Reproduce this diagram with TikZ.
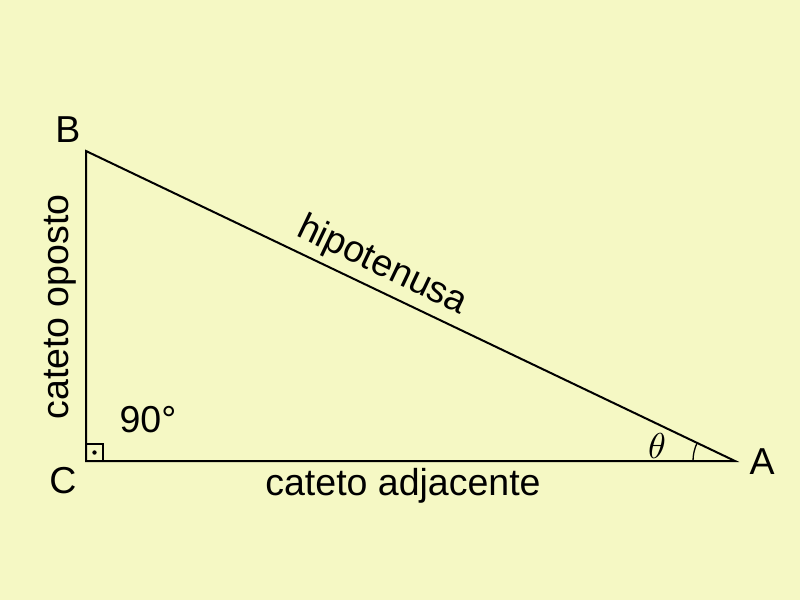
\documentclass[tikz,border=0pt]{standalone}
\usepackage{fontspec}
\setmainfont{Liberation Sans}
\usetikzlibrary{calc}
\definecolor{bg}{RGB}{245,248,196}
\begin{document}
\begin{tikzpicture}[x=1pt,y=-1pt,
  edge/.style={line width=2pt,black},
  lbl/.style={font=\fontsize{37.5}{40}\selectfont,inner sep=0pt}]
\fill[bg] (0,0) rectangle (800,600);
\useasboundingbox (0,0) rectangle (800,600);
\coordinate (C) at (86,461);
\coordinate (B) at (86,151);
\coordinate (A) at (735,461);
\draw[edge,line join=miter] (C) -- (B) -- (A) -- cycle;
\draw[line width=1.6pt] ($(C)+(0,-17)$) -- ($(C)+(17,-17)$) -- ($(C)+(17,0)$);
\fill ($(C)+(8.5,-8.5)$) circle (2.2);
\draw[line width=1.3pt] ($(A)+(-42,0)$) arc[start angle=180,end angle=205.5,radius=42];
\node[lbl] (lB) at (68,130) {B};
\node[lbl] (lC) at (63,481) {C};
\node[lbl] (lA) at (762,462) {A};
\node[lbl] (l90) at (148,420) {90°};
\node[inner sep=0pt,scale=3.6] (lth) at (657,446) {$\theta$};
\node[lbl,rotate=90] (lop) at (60,307) {cateto oposto};
\node[lbl] (lad) at (403,486) {cateto adjacente};
\node[lbl,rotate=-25.53] (lhip) at (382,266) {hipotenusa};
\end{tikzpicture}
\end{document}
